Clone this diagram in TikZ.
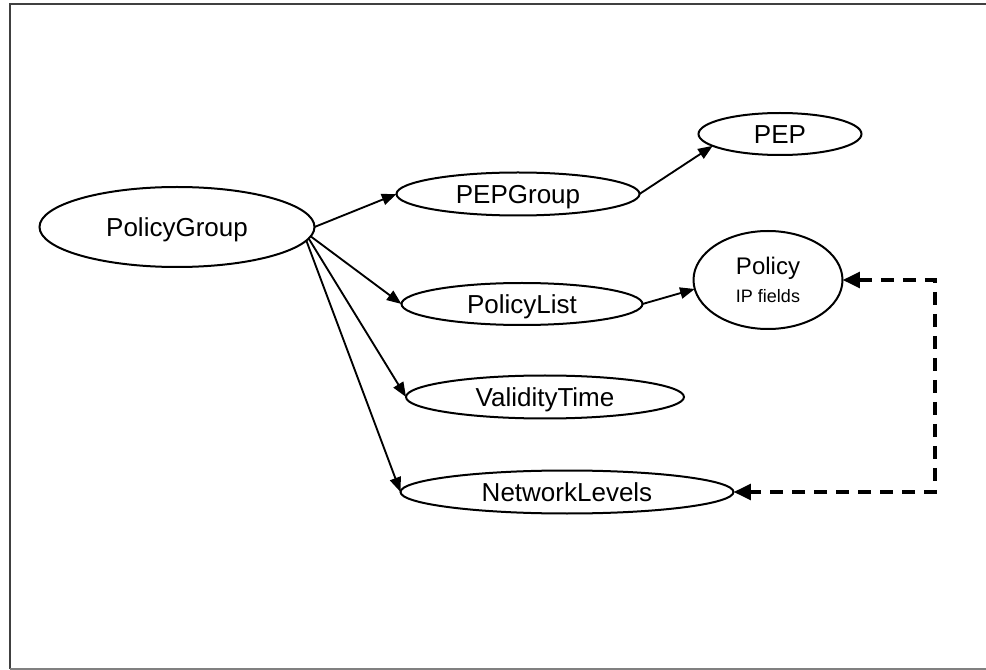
\documentclass[tikz,border=0pt]{standalone}
\usepackage{fontspec}
\setmainfont{Liberation Sans}
\usetikzlibrary{shapes.geometric,arrows.meta}

\definecolor{framedark}{HTML}{404040}
\definecolor{framelight}{HTML}{808080}

\tikzset{
  oval/.style={ellipse, draw, line width=1.5pt, inner sep=0pt, outer sep=0pt,
    font=\fontsize{19.5}{21}\selectfont},
  label1/.style={text height=14pt, text depth=0pt},
  link/.style={line width=1.4pt, -{Triangle[length=11pt,width=8.5pt]}},
  backlink/.style={line width=3pt, dash pattern=on 9.75pt off 6.75pt,
    {Triangle[length=13pt,width=11.5pt]}-{Triangle[length=13pt,width=11.5pt]}},
}

\begin{document}
\begin{tikzpicture}[x=0.75pt, y=-0.75pt]
  \useasboundingbox (0,0) rectangle (986,670);

  % page frame
  \draw[framedark, line width=1.5pt] (986,4.5) -- (9.5,4.5) -- (9.5,669);
  \draw[framelight, line width=1.5pt] (9.5,669) -- (986,669);

  % object nodes
  \node[oval, label1, minimum width=206.25pt, minimum height=60pt]   (group)    at (177,227) {PolicyGroup};
  \node[oval, label1, minimum width=182.25pt, minimum height=32.25pt] (pepgroup) at (518,194) {PEPGroup};
  \node[oval, label1, minimum width=122.25pt, minimum height=31.5pt]  (pep)      at (780,134) {PEP};
  \node[oval, label1, minimum width=180.75pt, minimum height=31.5pt]  (plist)    at (522,304) {PolicyList};
  \node[oval, minimum width=111.75pt, minimum height=73.5pt, align=center] (policy) at (768,280)
    {{\fontsize{18}{19}\selectfont Policy}\\[0pt]{\fontsize{13.5}{15}\selectfont IP fields}};
  \node[oval, label1, minimum width=208.5pt, minimum height=32.25pt]  (validity) at (545,397) {ValidityTime};
  \node[oval, label1, minimum width=249.75pt, minimum height=32.25pt] (levels)   at (567,492) {NetworkLevels};

  % containment links
  \draw[link] (group.east) -- (pepgroup.west);
  \draw[link] (group.-4) -- (plist.west);
  \draw[link] (group.-5) -- (validity.west);
  \draw[link] (group.-6) -- (levels.west);
  \draw[link] (pepgroup.east) -- (pep.190);
  \draw[link] (plist.east) -- (policy.187);

  % reference between policy and network levels
  \coordinate (turn) at (935,280);
  \draw[backlink] (policy.east) -- (turn) |- (levels.east);
\end{tikzpicture}
\end{document}
